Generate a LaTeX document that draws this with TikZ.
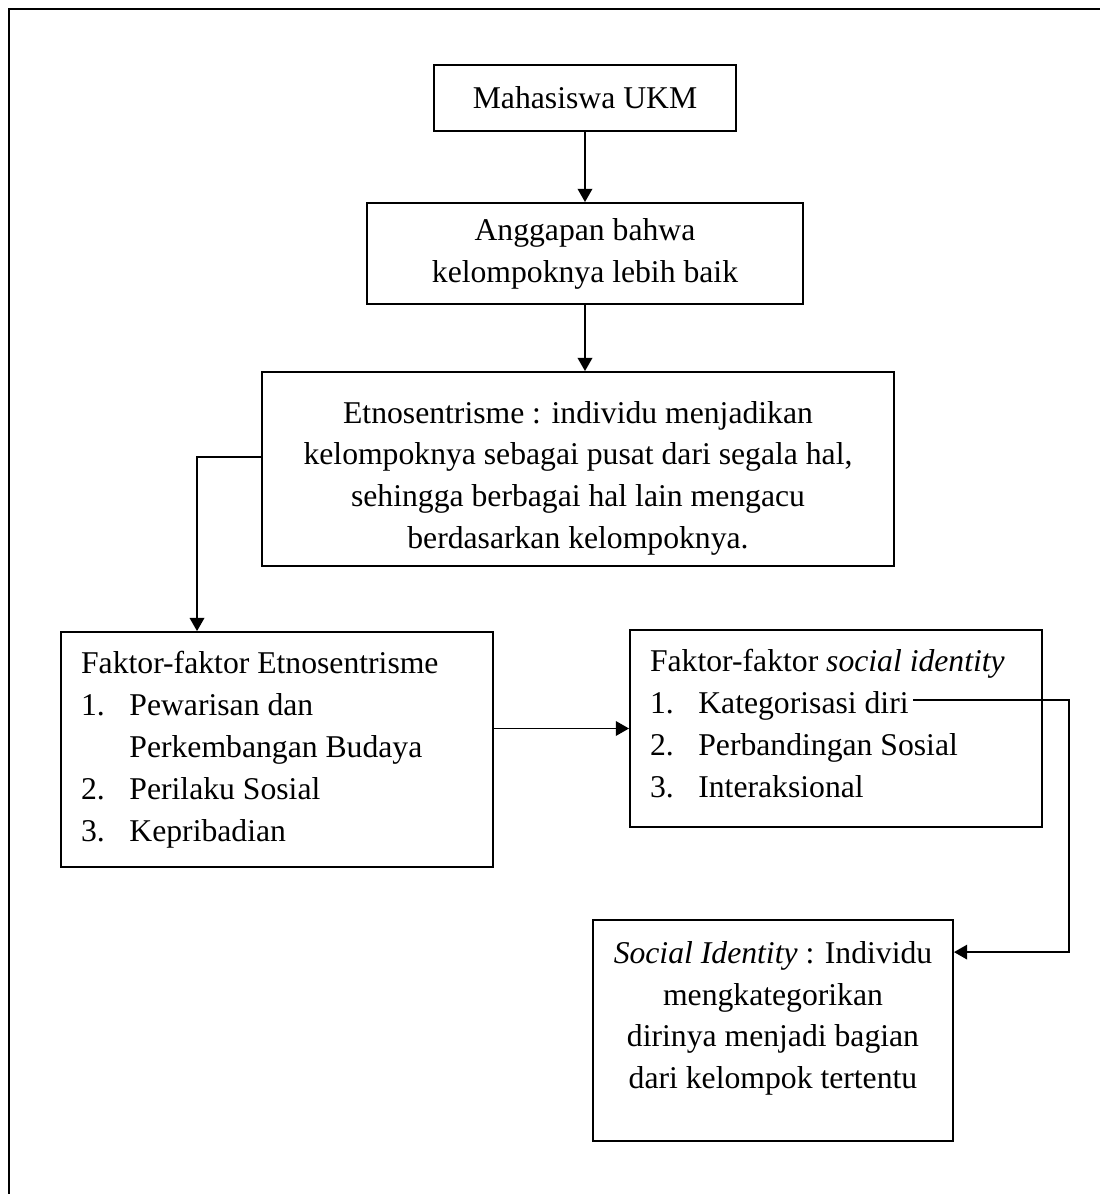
\documentclass[tikz,border=0pt]{standalone}
\usepackage{fontspec}
\setmainfont{Liberation Serif}
\usetikzlibrary{arrows.meta}
\newcommand{\butir}[1]{\makebox[18.3pt][l]{#1}}
\newcommand{\lanjut}{\hspace*{18.3pt}}
\newcommand{\isi}[4]{\parbox[c][#2][t]{#1}{\vspace*{#3}#4}}

\begin{document}
\begin{tikzpicture}[x=0.3788pt,y=-0.3788pt,
	>={Triangle[length=5pt,width=5.5pt]},
	kotak/.style={draw, line width=0.7pt, font=\fontsize{12}{15.87}\selectfont},
	garis/.style={line width=0.7pt}]
	\useasboundingbox (0,0) rectangle (1100,1194);
	\draw[line width=0.9pt] (9,1194) -- (9,9) -- (1100,9);
	\node[kotak, minimum width=114.4pt, minimum height=25pt] (mhs) at (585,98) {Mahasiswa UKM};
	\node[kotak, align=center, minimum width=165.2pt, minimum height=38.3pt] (ang) at (585,253.5) {Anggapan bahwa\\kelompoknya lebih baik};
	\node[kotak, inner sep=0pt] (etno) at (578,469) {\isi{239.4pt}{73.5pt}{11pt}{\centering Etnosentrisme : individu menjadikan\\ kelompoknya sebagai pusat dari segala hal,\\ sehingga berbagai hal lain mengacu\\ berdasarkan kelompoknya.}};
	\node[kotak, align=flush left, text width=148.4pt, inner xsep=7.6pt, minimum height=89pt] (faktorE) at (277,749.5) {Faktor-faktor Etnosentrisme\\ \butir{1.}Pewarisan dan\\ \lanjut Perkembangan Budaya\\ \butir{2.}Perilaku Sosial\\ \butir{3.}Kepribadian};
	\node[kotak, inner xsep=7.6pt, inner ysep=0pt] (faktorS) at (836,728.5) {\isi{140.9pt}{74.6pt}{7.3pt}{\raggedright Faktor-faktor \textit{social identity}\\ \butir{1.}Kategorisasi diri\\ \butir{2.}Perbandingan Sosial\\ \butir{3.}Interaksional}};
	\node[kotak, inner sep=0pt] (sid) at (773,1030.5) {\isi{136.4pt}{83.7pt}{8pt}{\centering\textit{Social Identity} : Individu\\ mengkategorikan\\ dirinya menjadi bagian\\ dari kelompok tertentu}};
	% panah
	\draw[garis,->] (mhs.south) -- (ang.north);
	\draw[garis,->] (ang.south) -- (ang.south |- etno.north);
	\draw[garis,->] ([yshift=4.55pt]etno.west) -| ([xshift=-30.3pt]faktorE.north);
	\draw[garis,->] (faktorE.east |- faktorS.west) -- (faktorS.west);
	\coordinate (diri) at (913,700);
	\coordinate (belok) at (1069,700);
	\draw[garis,->] (diri) -- (belok) |- ([yshift=29.7pt]sid.east);
\end{tikzpicture}
\end{document}
